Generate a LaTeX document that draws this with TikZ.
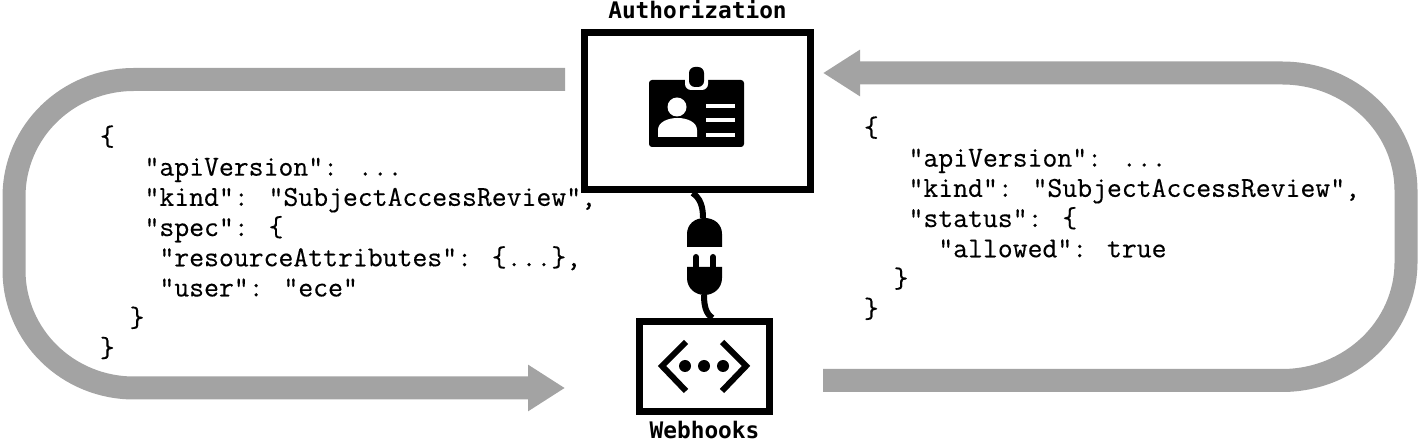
\documentclass[tikz,border=0pt]{standalone}
\usepackage{fontspec}
\newfontfamily\boxfont{DejaVu Sans Mono}
\newfontfamily\codefont{Latin Modern Mono}[FakeBold=0.35]
\usetikzlibrary{calc,arrows.meta,positioning}
\definecolor{bandgray}{HTML}{A3A3A3}
\tikzset{
  frame/.style={draw=black, line width=3.5pt, inner sep=0pt, fill=white},
  title/.style={font=\boxfont\bfseries\fontsize{11.4}{13}\selectfont, inner sep=0pt},
  code/.style={font=\codefont\fontsize{14.45}{15.1}\selectfont, align=left, anchor=north west, inner sep=0pt},
  band/.style={draw=bandgray, line width=11.5pt, -{Triangle[length=18.5pt,width=22pt,fill=bandgray]}},
  cable/.style={draw=black, line width=3pt},
  glyph/.style={draw=black, line width=3pt},
}
\begin{document}
\begin{tikzpicture}[x=0.5pt, y=-0.5pt]
    \useasboundingbox (0, 0) rectangle (1418, 442);

    \coordinate (leftstart) at (565, 79.5);
    \coordinate (leftend) at (565, 388);
    \coordinate (rightstart) at (823, 380.5);
    \coordinate (rightend) at (823, 73);

    % grey return bands
    \draw[band] (leftstart) -- (134, 79.5)
        .. controls (68, 79.5) and (14, 131) .. (14, 197) -- (14, 270)
        .. controls (14, 336) and (68, 388) .. (134, 388) -- (leftend);
    \draw[band] (rightstart) -- (1282, 380.5)
        .. controls (1350, 380.5) and (1406, 328) .. (1406, 262) -- (1406, 191)
        .. controls (1406, 125) and (1350, 73) .. (1282, 73) -- (rightend);

    \node[code] (reviewreq) at (99.5, 125) {\{\\
        ~~~"apiVersion": ...\\
        ~~~"kind": "SubjectAccessReview",\\
        ~~~"spec": \{\\
        ~~~~"resourceAttributes": \{...\},\\
        ~~~~"user": "ece"\\
        ~~\}\\
        \}};
    \node[code] (reviewresp) at (863.5, 116) {\{\\
        ~~~"apiVersion": ...\\
        ~~~"kind": "SubjectAccessReview",\\
        ~~~"status": \{\\
        ~~~~~"allowed": true\\
        ~~\}\\
        \}};

    \node[frame, minimum width=113pt, minimum height=78.5pt] (authbox) at (697.5, 111) {};
    \node[frame, minimum width=65pt, minimum height=45pt] (hookbox) at (704.5, 366.5) {};
    \node[title, above=5pt of authbox] (authlabel) {Authorization};
    \node[title, below=3pt of hookbox] (hooklabel) {Webhooks};

    % badge icon
    \fill[black, rounded corners=1.5pt] (649, 80) rectangle (744, 147);
    \fill[white, rounded corners=3pt] (685, 70) rectangle (708, 90);
    \fill[black, rounded corners=3pt] (689, 67) rectangle (704, 87);
    \fill[white] (677, 107) circle[radius=4.75pt];
    \fill[white] (658, 137) -- (658, 130) .. controls (658, 122) and (668, 118) .. (677.5, 118)
        .. controls (687, 118) and (697, 122) .. (697, 130) -- (697, 137) -- cycle;
    \foreach \liney in {104, 118, 133}
        \fill[white] (706, \liney) rectangle (735, \liney + 4.5);

    % plug and socket
    \coordinate (socket) at (703, 218);
    \coordinate (plug) at (704, 295);
    \draw[cable] ([xshift=-2.5pt]authbox.south) .. controls (700, 198) and (703, 206) .. (socket);
    \draw[cable] (plug) .. controls (704, 306) and (706, 314) .. ([xshift=4pt]hookbox.north);
    \fill[black] (687, 247) -- (687, 234) .. controls (687, 224) and (695, 218) .. (704.5, 218)
        .. controls (714, 218) and (722, 224) .. (722, 234) -- (722, 247) -- cycle;
    \fill[black] (687, 267) -- (722, 267) -- (722, 278) .. controls (722, 288) and (714, 295) .. (704.5, 295)
        .. controls (695, 295) and (687, 288) .. (687, 278) -- cycle;
    \foreach \prongx in {696, 713}
        \draw[black, line width=3pt, line cap=round] (\prongx, 257) -- (\prongx, 268);

    % webhook icon
    \draw[glyph] (686, 342) -- (662, 366) -- (686, 391);
    \draw[glyph] (722, 342) -- (746, 366) -- (722, 391);
    \foreach \dotx in {685, 704, 723}
        \fill[black] (\dotx, 366) circle[radius=3pt];
\end{tikzpicture}
\end{document}
